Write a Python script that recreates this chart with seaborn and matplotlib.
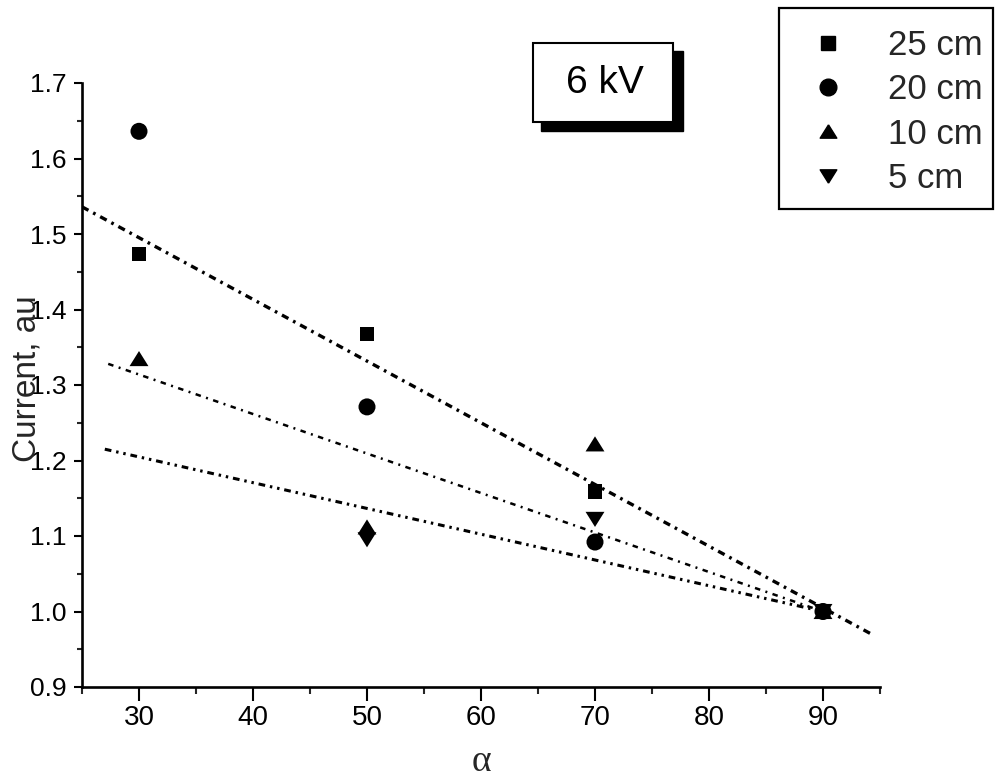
import numpy as np
import pandas as pd
import matplotlib
matplotlib.use("Agg")
import matplotlib.pyplot as plt
import seaborn as sns
from matplotlib.patches import Rectangle
from matplotlib.lines import Line2D
from matplotlib.ticker import MultipleLocator

# ---------------- data ----------------
alpha = [30, 50, 70, 90]
series = ["25 cm", "20 cm", "10 cm", "5 cm"]
current_25cm = [1.474, 1.368, 1.159, 1.000]
current_20cm = [1.636, 1.271, 1.092, 1.000]
current_10cm = [1.335, 1.112, 1.222, 1.000]
current_5cm = [np.nan, 1.095, 1.122, 1.000]

# linear fit lines (end points)
fit_top_x = [25.0, 94.5]
fit_top_y = [1.536, 0.968]
fit_mid_x = [27.3, 90.0]
fit_mid_y = [1.328, 1.000]
fit_bot_x = [27.0, 90.0]
fit_bot_y = [1.215, 1.000]

x_ticks = [30, 40, 50, 60, 70, 80, 90]
y_ticks = [0.9, 1.0, 1.1, 1.2, 1.3, 1.4, 1.5, 1.6, 1.7]

# ---------------- style ----------------
sns.set_theme(style="ticks")
plt.rcParams["font.family"] = ["Liberation Sans", "DejaVu Sans"]

W, H = 997, 782
fig = plt.figure(figsize=(W / 100, H / 100), dpi=100)
ax = fig.add_axes([82 / W, 1 - 687 / H, 798 / W, 604 / H])

rows = []
for name, vals in zip(series, [current_25cm, current_20cm, current_10cm, current_5cm]):
    for a, v in zip(alpha, vals):
        if not np.isnan(v):
            rows.append({"alpha": a, "current": v, "series": name})
df = pd.DataFrame(rows)

tri_up = [(0, 0.8), (-1, -0.8), (1, -0.8), (0, 0.8)]
tri_down = [(0, -0.8), (-1, 0.8), (1, 0.8), (0, -0.8)]
markers = {"25 cm": "s", "20 cm": "o", "10 cm": tri_up, "5 cm": tri_down}
sizes = {"25 cm": 105, "20 cm": 150, "10 cm": 185, "5 cm": 185}

sns.scatterplot(data=df, x="alpha", y="current", style="series", markers=markers,
                size="series", sizes=sizes, color="black", edgecolor="black",
                linewidth=0, legend=False, ax=ax, zorder=3)

fits = [
    (fit_top_x, fit_top_y, 2.4, (0, (2.2, 1.6, 0.8, 1.6))),
    (fit_mid_x, fit_mid_y, 1.8, (0, (2.2, 2.2, 0.8, 2.2))),
    (fit_bot_x, fit_bot_y, 2.2, (0, (2.2, 1.6, 0.8, 1.6, 0.8, 1.6))),
]
for fx, fy, lw, ls in fits:
    sns.lineplot(x=fx, y=fy, ax=ax, color="black", linewidth=lw,
                 linestyle=ls, sort=False, zorder=2)

ax.set_xlim(25, 95)
ax.set_ylim(0.9, 1.7)
ax.set_xticks(x_ticks)
ax.set_yticks(y_ticks)
ax.set_yticklabels([f"{t:.1f}" for t in y_ticks])
ax.xaxis.set_minor_locator(MultipleLocator(5))
ax.yaxis.set_minor_locator(MultipleLocator(0.05))

for side in ["top", "right"]:
    ax.spines[side].set_visible(False)
for side in ["left", "bottom"]:
    ax.spines[side].set_linewidth(1.9)
    ax.spines[side].set_color("black")

ax.tick_params(axis="x", which="major", direction="out", length=10, width=1.5,
               pad=3, labelsize=20, colors="black")
ax.tick_params(axis="x", which="minor", direction="out", length=5, width=1.5)
ax.tick_params(axis="y", which="major", direction="out", length=6, width=1.5,
               pad=5, labelsize=19, colors="black")
ax.tick_params(axis="y", which="minor", direction="out", length=3.5, width=1.5)

ax.set_xlabel("α", fontsize=27, family=["Liberation Serif", "DejaVu Serif"])
ax.xaxis.label.set_va("baseline")
ax.xaxis.set_label_coords(0.5, (687 - 771) / 604)
ax.set_ylabel("Current, au", fontsize=24)
ax.yaxis.set_label_coords(-0.049, 0.51)

# legend box (frame) and legend entries
fig.add_artist(Rectangle((779 / W, 1 - 209 / H), 214 / W, 201 / H,
                         transform=fig.transFigure, facecolor="white",
                         edgecolor="black", linewidth=1.6, zorder=4))
handles = [Line2D([], [], linestyle="none", marker=markers[s], color="black",
                  markersize=(10 if s == "25 cm" else 12)) for s in series]
leg = fig.legend(handles, series, loc="upper right",
                 bbox_to_anchor=(983 / W, 1 - 29 / H), bbox_transform=fig.transFigure,
                 borderaxespad=0, frameon=False, fontsize=25,
                 borderpad=0, handlelength=1.5, handletextpad=1.0,
                 labelspacing=0.325)
leg.set_zorder(8)

# "6 kV" box with shadow
fig.add_artist(Rectangle((541 / W, 1 - 131 / H), 142 / W, 80 / H,
                         transform=fig.transFigure, facecolor="black",
                         edgecolor="black", zorder=5))
fig.add_artist(Rectangle((533 / W, 1 - 122 / H), 140 / W, 79 / H,
                         transform=fig.transFigure, facecolor="white",
                         edgecolor="black", linewidth=1.5, zorder=6))
fig.text(605 / W, 1 - 83 / H, "6 kV", ha="center", va="center", fontsize=28,
         color="black", zorder=7)

fig.savefig("out.png", dpi=100, facecolor="white")
